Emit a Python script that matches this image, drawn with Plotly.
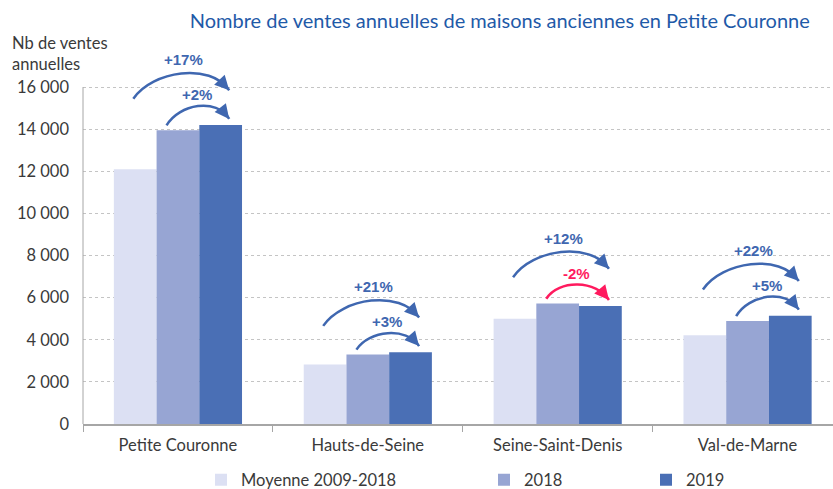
import plotly.graph_objects as go

# ---------------- data ----------------
categories = ["Petite Couronne", "Hauts-de-Seine", "Seine-Saint-Denis", "Val-de-Marne"]
series_names = ["Moyenne 2009-2018", "2018", "2019"]
moyenne_2009_2018 = [12100, 2820, 5000, 4210]
ventes_2018 = [13950, 3300, 5720, 4890]
ventes_2019 = [14200, 3410, 5600, 5140]
y_tickvals = [0, 2000, 4000, 6000, 8000, 10000, 12000, 14000, 16000]

title_text = "Nombre de ventes annuelles de maisons anciennes en Petite Couronne"
y_title = "Nb de ventes<br>annuelles"

# ---------------- styles ----------------
colors = ["#DCE0F3", "#97A5D3", "#4A6FB5"]
arrow_blue = "#3F67B0"
arrow_red = "#FF1A5E"
txt = "#3A3A3A"
FONT = "Lato, Calibri, sans-serif"
BOLD = "Arial, Liberation Sans, sans-serif"
W, H = 833, 489

x_pos = list(range(len(categories)))
n = len(series_names)
bargap = 0.325
bw = (1 - bargap) / n
offsets = [(k - (n - 1) / 2) * bw for k in range(n)]

fig = go.Figure()
legend_ids = ["legend", "legend2", "legend3"]
for k, (name, vals) in enumerate(zip(series_names, [moyenne_2009_2018, ventes_2018, ventes_2019])):
    fig.add_trace(go.Bar(
        x=x_pos, y=vals, name=name, marker=dict(color=colors[k], line=dict(width=0)),
        legend=legend_ids[k], hoverinfo="skip"))


def cub(p0, c1, c2, p1, t):
    u = 1 - t
    return tuple(u ** 3 * p0[j] + 3 * u * u * t * c1[j] + 3 * u * t * t * c2[j] + t ** 3 * p1[j]
                 for j in range(2))


shapes = []
annotations = []


def arc(x0, y0, x1, y1, ypeak, color, label, lx, ly):
    dx = x1 - x0
    k = (ypeak - 0.5 * (y0 + y1)) * 4 / 3
    c1 = (x0 + 0.2 * dx, y0 + k)
    c2 = (x1 - 0.2 * dx, y1 + k)
    shapes.append(dict(type="path", xref="x", yref="y",
                       path=f"M {x0},{y0} C {c1[0]},{c1[1]} {c2[0]},{c2[1]} {x1},{y1}",
                       line=dict(color=color, width=2.5)))
    ax, ay = cub((x0, y0), c1, c2, (x1, y1), 0.9)
    annotations.append(dict(x=x1, y=y1, ax=ax, ay=ay, xref="x", yref="y", axref="x", ayref="y",
                            showarrow=True, arrowhead=2, arrowsize=1.15, arrowwidth=2.5,
                            arrowcolor=color, text=""))
    annotations.append(dict(x=lx, y=ly, xref="x", yref="y", text=f"<b>{label}</b>", showarrow=False,
                            font=dict(family=BOLD, size=15, color=color)))


def pct(a, b):
    v = round((b / a - 1) * 100)
    return (f"+{v}%" if v >= 0 else f"{v}%"), (arrow_blue if v >= 0 else arrow_red)


for i in range(len(categories)):
    a, b, c = moyenne_2009_2018[i], ventes_2018[i], ventes_2019[i]
    gmax = max(a, b, c)
    # outer arc: moyenne -> 2019
    lab, col = pct(a, c)
    arc(i + offsets[0] - 0.01, gmax + 1250, i + offsets[2] + 0.045, gmax + 1650, gmax + 2450,
        col, lab, i + 0.03, gmax + 3100)
    # inner arc: 2018 -> 2019
    lab, col = pct(b, c)
    m = max(b, c)
    arc(i + offsets[1] - 0.06, b + 230, i + offsets[2] + 0.045, c + 290, m + 900,
        col, lab, i + 0.1, m + 1450)

# y axis line (stops at the top gridline)
shapes.append(dict(type="line", xref="paper", yref="y", x0=0, x1=0, y0=0, y1=y_tickvals[-1],
                   line=dict(color="#A6A6A6", width=1)))

annotations.append(dict(x=-0.0973, y=1.037, xref="paper", yref="paper", xanchor="left", yanchor="top",
                        text=y_title, showarrow=False, align="left",
                        font=dict(family=FONT, size=16.5, color=txt)))


def leg(text_start_px):
    return dict(orientation="h", xref="container", yref="container",
                x=(text_start_px - 38) / W, y=1 - 480 / H, xanchor="left", yanchor="middle",
                font=dict(family=FONT, size=16.5, color=txt), itemwidth=30,
                bgcolor="rgba(0,0,0,0)", borderwidth=0)


fig.update_layout(
    width=W, height=H,
    margin=dict(l=83, r=0, t=45, b=65, autoexpand=False),
    paper_bgcolor="white", plot_bgcolor="white",
    separators=", ",
    barmode="group", bargap=bargap, bargroupgap=0,
    title=dict(text=title_text, x=0.6, xanchor="center", y=1 - 20.5 / H, yanchor="middle",
               font=dict(family=FONT, size=20, color="#1F5AA8")),
    xaxis=dict(range=[-0.5, 3.45], tickvals=x_pos, ticktext=categories, ticks="",
               showline=True, linecolor="#A6A6A6", linewidth=1.5, showgrid=False, zeroline=False,
               tickfont=dict(family=FONT, size=16.5, color=txt), ticklabelstandoff=6,
               automargin=False,
               minor=dict(tickvals=[-0.5, 0.5, 1.5, 2.5], ticks="outside", ticklen=6,
                          tickcolor="#A6A6A6", tickwidth=1, showgrid=False)),
    yaxis=dict(range=[0, 18000], tickvals=y_tickvals, tickformat=",d", showline=False,
               showgrid=True, gridcolor="#C4C4C4", gridwidth=1, griddash="dot", zeroline=False,
               tickfont=dict(family=FONT, size=16.5, color=txt), ticks="", ticklabelstandoff=13,
               automargin=False),
    shapes=shapes,
    annotations=annotations,
    showlegend=True,
    legend=leg(239),
    legend2=leg(522),
    legend3=leg(684),
)

fig.write_html("out.html", config={"displayModeBar": False, "staticPlot": True},
               post_script="document.body.style.margin='0';document.body.style.padding='0';")
